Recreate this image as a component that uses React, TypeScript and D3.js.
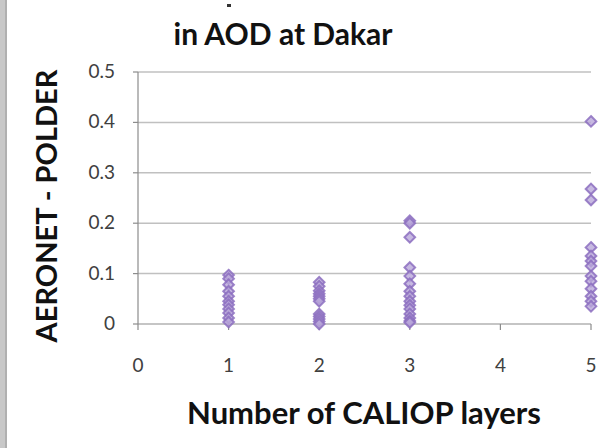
import React from "react";
import * as d3 from "d3";

const layers1 = [0.097, 0.09, 0.078, 0.065, 0.055, 0.045, 0.038, 0.03, 0.022, 0.012, 0.004];
const layers2 = [0.083, 0.075, 0.066, 0.06, 0.055, 0.05, 0.045, 0.02, 0.015, 0.01, 0.005, 0.0];
const layers3 = [0.205, 0.2, 0.172, 0.112, 0.095, 0.08, 0.065, 0.055, 0.045, 0.037, 0.03, 0.02, 0.012, 0.006, 0.003];
const layers5 = [0.402, 0.268, 0.246, 0.152, 0.135, 0.125, 0.115, 0.095, 0.085, 0.07, 0.055, 0.045, 0.035];
const xTicks = [0, 1, 2, 3, 4, 5];
const yTicks = [0, 0.1, 0.2, 0.3, 0.4, 0.5];

const series = [
  { layers: 1, values: layers1 },
  { layers: 2, values: layers2 },
  { layers: 3, values: layers3 },
  { layers: 5, values: layers5 },
];

export default function App() {
  const W = 607, H = 448;
  const x = d3.scaleLinear().domain([0, 5]).range([138, 591]);
  const y = d3.scaleLinear().domain([0, 0.5]).range([324, 72]);
  const points = series.flatMap((s) => s.values.map((v) => ({ lx: s.layers, v })));
  const sym = d3.symbol().type(d3.symbolDiamond2).size(72)();
  const font = "Lato, 'Open Sans', sans-serif";
  return (
    <svg width={W} height={H} style={{ position: "absolute", left: 0, top: 0, background: "#fff" }}>
      <rect x={0} y={0} width={W} height={H} fill="#fff" />
      <rect x={0} y={0} width={5} height={H} fill="#c8c8c8" />
      <rect x={5} y={0} width={2} height={H} fill="#b0b0b0" />
      <rect x={227} y={4} width={4} height={3} fill="#333" />
      <text x={283} y={45} fontFamily={font} fontSize={30} fontWeight="bold" textAnchor="middle" fill="#111">in AOD at Dakar</text>
      {yTicks.filter((t) => t > 0).map((t) => (
        <line key={"g" + t} x1={x(0)} x2={x(5)} y1={y(t)} y2={y(t)} stroke="#c0c0c0" strokeWidth={1.5} />
      ))}
      <line x1={x(0)} x2={x(0)} y1={y(0.5)} y2={y(0)} stroke="#8c8c8c" strokeWidth={1.2} />
      <line x1={x(0)} x2={x(5)} y1={y(0)} y2={y(0)} stroke="#8c8c8c" strokeWidth={1.2} />
      {yTicks.map((t) => (
        <g key={"y" + t}>
          <line x1={x(0) - 5} x2={x(0)} y1={y(t)} y2={y(t)} stroke="#8c8c8c" strokeWidth={1.2} />
          <text x={115} y={y(t) + 6} fontFamily={font} fontSize={19} textAnchor="end" fill="#404040">{d3.format(".1~f")(t)}</text>
        </g>
      ))}
      {xTicks.map((t) => (
        <g key={"x" + t}>
          <line x1={x(t)} x2={x(t)} y1={y(0)} y2={y(0) + 6} stroke="#8c8c8c" strokeWidth={1.2} />
          <text x={x(t)} y={372} fontFamily={font} fontSize={19} textAnchor="middle" fill="#404040">{t}</text>
        </g>
      ))}
      {points.map((p, i) => (
        <path key={i} d={sym} transform={`translate(${x(p.lx)},${y(p.v)})`} fill="#b9a8da" fillOpacity={0.8} stroke="#8c6fc0" strokeOpacity={0.85} strokeWidth={2} />
      ))}
      <text transform="translate(57,206) rotate(-90)" fontFamily={font} fontSize={29} fontWeight="bold" textAnchor="middle" fill="#111">AERONET - POLDER</text>
      <text x={364} y={424} fontFamily={font} fontSize={31} fontWeight="bold" textAnchor="middle" fill="#111">Number of CALIOP layers</text>
    </svg>
  );
}
